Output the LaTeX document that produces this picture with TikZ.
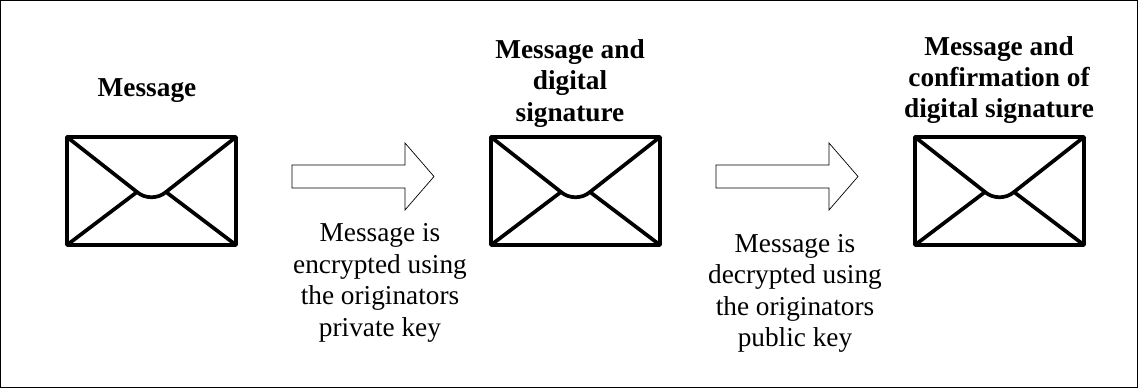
\documentclass[tikz,border=0pt]{standalone}
\usepackage{fontspec}
\setmainfont{Liberation Serif}
\begin{document}
\begin{tikzpicture}[x=1pt,y=-1pt,
  titletext/.style={font=\fontsize{27.3}{31.2}\selectfont\bfseries,align=center,inner sep=0pt},
  captext/.style={font=\fontsize{27.3}{31.6}\selectfont,align=center,inner sep=0pt},
  env/.style={line width=3.7pt,line join=round},
  arr/.style={draw=black,line width=0.7pt,fill=white}]
\useasboundingbox (0,0) rectangle (1138,388);
\draw[line width=0.8pt] (0.5,0.5) rectangle (1137.5,387.5);
\foreach \n/\x in {a/67,b/491,c/915}{
  \begin{scope}[shift={(\x,137)}]
  \draw[env] (0,0) rectangle (169,108);
  \draw[env] (0,0) -- (70,55) .. controls (78,62) and (91,62) .. (99,55) -- (169,0);
  \draw[env] (0,108) -- (70,55);
  \draw[env] (169,108) -- (99,55);
  \end{scope}
}
\node[titletext] (t1) at (147,91) {Message};
\node[titletext] (t2) at (570,83.5) {Message and\\digital\\signature};
\node[titletext] (t3) at (999,80) {Message and\\confirmation of\\digital signature};
\draw[arr] (292,165) -- (405,165) -- (405,143) -- (434,176.5) -- (405,210) -- (405,188) -- (292,188) -- cycle;
\draw[arr] (716,165) -- (829,165) -- (829,143) -- (858,176.5) -- (829,210) -- (829,188) -- (716,188) -- cycle;
\node[captext] (c1) at (380,283) {Message is\\encrypted using\\the originators\\private key};
\node[captext] (c2) at (795,293.5) {Message is\\decrypted using\\the originators\\public key};
\end{tikzpicture}
\end{document}
